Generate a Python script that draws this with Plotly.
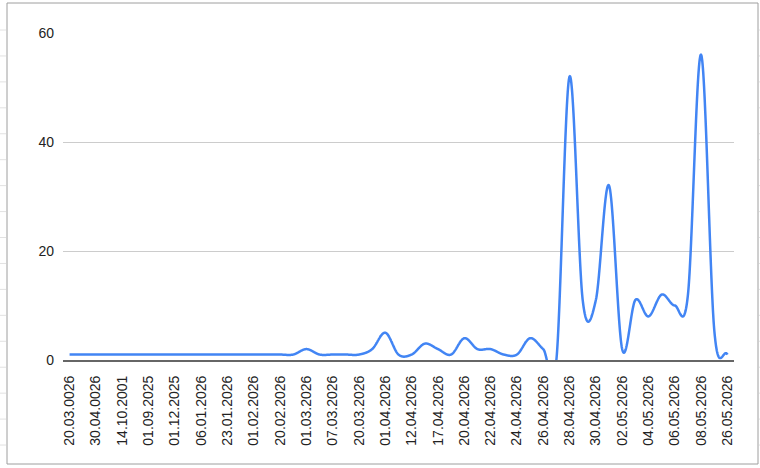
import numpy as np
import plotly.graph_objects as go

# Tick labels shown on the category axis (every other category is labelled)
tick_labels = [
    "20.03.0026", "30.04.0026", "14.10.2001", "01.09.2025", "01.12.2025",
    "06.01.2026", "23.01.2026", "01.02.2026", "20.02.2026", "01.03.2026",
    "07.03.2026", "20.03.2026", "01.04.2026", "12.04.2026", "17.04.2026",
    "20.04.2026", "22.04.2026", "24.04.2026", "26.04.2026", "28.04.2026",
    "30.04.2026", "02.05.2026", "04.05.2026", "06.05.2026", "08.05.2026",
    "26.05.2026",
]

# Series values (one per category, 51 categories)
values = [
    1, 1, 1, 1, 1, 1, 1, 1, 1, 1,
    1, 1, 1, 1, 1, 1, 1, 1, 2, 1,
    1, 1, 1, 2, 5, 1, 1, 3, 2, 1,
    4, 2, 2, 1, 1, 4, 2, 0, 52, 11,
    11, 32, 2, 11, 8, 12, 10, 12, 56, 5.5,
    1,
]

y_ticks = [0, 20, 40, 60]

x_idx = np.arange(len(values), dtype=float)
tick_vals = list(range(0, len(values), 2))


def smooth_curve(xs, ys, steps=80):
    """Catmull-Rom rendering of the series (like the source's 'function' curve)."""
    ys = np.asarray(ys, dtype=float)
    n = len(ys)
    m = np.zeros(n)
    m[1:-1] = (ys[2:] - ys[:-2]) / 2.0
    m[0] = ys[1] - ys[0]
    m[-1] = ys[-1] - ys[-2]
    out_x, out_y = [], []
    t = np.linspace(0, 1, steps, endpoint=False)
    h00 = 2 * t**3 - 3 * t**2 + 1
    h10 = t**3 - 2 * t**2 + t
    h01 = -2 * t**3 + 3 * t**2
    h11 = t**3 - t**2
    for i in range(n - 1):
        out_x.extend(xs[i] + t * (xs[i + 1] - xs[i]))
        out_y.extend(h00 * ys[i] + h10 * m[i] + h01 * ys[i + 1] + h11 * m[i + 1])
    out_x.append(xs[-1])
    out_y.append(ys[-1])
    return out_x, out_y


cx, cy = smooth_curve(x_idx, values)

W, H = 760, 468
L, R, T, B = 63, 26, 33, 108
pw, ph = W - L - R, H - T - B


def px_x(p):
    return (p - L) / pw


def px_y(p):
    return (H - B - p) / ph


fig = go.Figure()
fig.add_trace(go.Scatter(
    x=cx, y=cy, mode="lines",
    line=dict(color="#4285F4", width=2.5, simplify=False),
    hoverinfo="skip", showlegend=False,
))

shapes = []
# chart frame
shapes.append(dict(type="rect", xref="paper", yref="paper",
                   x0=px_x(7), x1=px_x(758), y0=px_y(464), y1=px_y(3),
                   line=dict(color="#9e9e9e", width=1), fillcolor="rgba(0,0,0,0)", layer="below"))
# faint spreadsheet cell lines outside the frame
for k in range(17):
    yy = 30 + 25.94 * k
    shapes.append(dict(type="line", xref="paper", yref="paper",
                       x0=px_x(0), x1=px_x(6), y0=px_y(yy), y1=px_y(yy),
                       line=dict(color="#e2e2e2", width=1), layer="below"))
    shapes.append(dict(type="line", xref="paper", yref="paper",
                       x0=px_x(759), x1=px_x(760), y0=px_y(yy), y1=px_y(yy),
                       line=dict(color="#e2e2e2", width=1), layer="below"))

fig.update_layout(
    width=W, height=H,
    margin=dict(l=L, r=R, t=T, b=B, pad=0),
    paper_bgcolor="white", plot_bgcolor="white",
    font=dict(family="Liberation Sans, Arial, sans-serif", size=14, color="#222222"),
    shapes=shapes,
    xaxis=dict(
        range=[-0.5, len(values) - 0.5],
        tickmode="array", tickvals=tick_vals, ticktext=tick_labels,
        tickangle=-90, showgrid=False, zeroline=False,
        showline=True, linecolor="#666666", linewidth=2,
        ticks="", ticklabelstandoff=8,
        tickfont=dict(size=14, color="#222222"),
    ),
    yaxis=dict(
        range=[0, 60], tickmode="array", tickvals=y_ticks,
        showgrid=True, gridcolor="#cccccc", gridwidth=1,
        zeroline=False, showline=False, ticks="",
        ticklabelstandoff=8,
        tickfont=dict(size=14, color="#222222"),
    ),
)

fig.write_html("out.html", config={"displayModeBar": False},
               post_script="document.body.style.margin='0';")
